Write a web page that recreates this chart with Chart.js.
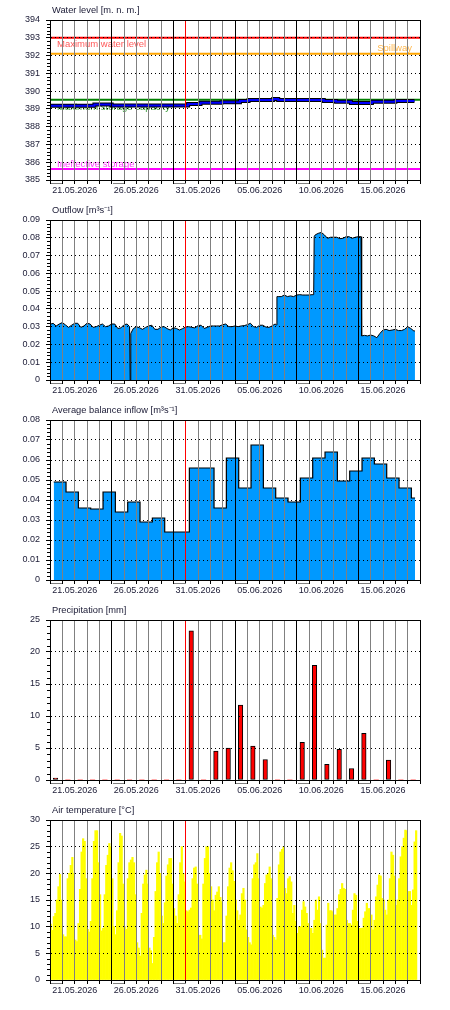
<!DOCTYPE html>
<html>
<head>
<meta charset="utf-8">
<script src="https://cdn.jsdelivr.net/npm/chart.js@4.4.1/dist/chart.umd.min.js"></script>
<style>
  html, body { margin: 0; padding: 0; background: #fff; overflow: hidden; }
  canvas { display: block; }
</style>
</head>
<body>
<canvas id="wl" width="450" height="200"></canvas>
<canvas id="of" width="450" height="200"></canvas>
<canvas id="inf" width="450" height="200"></canvas>
<canvas id="pr" width="450" height="200"></canvas>
<canvas id="tmp" width="450" height="200"></canvas>
<script>
// === data (x = days since 19.05.2026 00:00) ===
const axisDays   = 30;
const labelDays  = [2, 7, 12, 17, 22, 27];
const dateLabels = ["21.05.2026", "26.05.2026", "31.05.2026", "05.06.2026", "10.06.2026", "15.06.2026"];
const weekDays   = [0, 5, 10, 15, 20, 25];
const nowDay     = 11; // 30.05.2026

const titles = ["Water level [m. n. m.]", "Outflow [m³s⁻¹]", "Average balance inflow [m³s⁻¹]",
                "Precipitation [mm]", "Air temperature [°C]"];

// water level + reference levels
const refNames  = ["Maximum water level", "Spillway", "Maximum storage capacity", "Ineffective storage"];
const refLevels = [393, 392.1, 389.52, 385.62];
const levelDays   = [0, 3.6, 5.0, 11.2, 12.2, 13.9, 15.4, 16.1, 18.1, 18.5, 22.2, 23.2, 24.4, 26.1, 28.0, 29.55];
const levelValues = [389.17, 389.24, 389.19, 389.27, 389.34, 389.38, 389.45, 389.5, 389.56, 389.5, 389.45, 389.4, 389.33, 389.4, 389.44, 389.44];

// outflow
const outflowDays = [0, 0.25, 0.5, 0.75, 1, 1.25, 1.5, 1.75, 2, 2.25, 2.5, 2.75, 3, 3.25, 3.5, 3.75, 4, 4.25, 4.5, 4.75,
  5, 5.25, 5.5, 5.75, 6, 6.25, 6.45, 6.5, 6.55, 6.75, 7, 7.25, 7.5, 7.75, 8, 8.25, 8.5, 8.75, 9, 9.25, 9.5, 9.75,
  10, 10.25, 10.5, 10.75, 11, 11.25, 11.5, 11.75, 12, 12.25, 12.5, 12.75, 13, 13.25, 13.5, 13.75, 14, 14.25, 14.5, 14.75,
  15, 15.25, 15.5, 15.75, 16, 16.25, 16.5, 16.75, 17, 17.25, 17.5, 17.75, 18, 18.25, 18.35, 18.4, 18.5, 18.75,
  19, 19.25, 19.5, 19.75, 20, 20.25, 20.5, 20.75, 21, 21.25, 21.38, 21.42, 21.5, 21.75, 22, 22.25, 22.5, 22.75,
  23, 23.25, 23.5, 23.75, 24, 24.25, 24.5, 24.75, 25, 25.22, 25.27, 25.5, 25.75, 26, 26.25, 26.5, 26.75,
  27, 27.25, 27.5, 27.75, 28, 28.25, 28.5, 28.75, 29, 29.25, 29.5, 29.59];
const outflowValues = [0.0313, 0.0319, 0.0304, 0.0315, 0.0323, 0.031, 0.0296, 0.0308, 0.0319, 0.0319, 0.0296, 0.0304, 0.0319, 0.0315, 0.0296, 0.030, 0.0308, 0.0315, 0.030, 0.0304,
  0.0315, 0.0315, 0.029, 0.0293, 0.0311, 0.0315, 0.030, 0, 0.0262, 0.0289, 0.030, 0.0294, 0.0285, 0.0296, 0.0304, 0.0308, 0.0285, 0.0285, 0.0298, 0.030, 0.0289, 0.0281,
  0.0294, 0.029, 0.0281, 0.0289, 0.0298, 0.030, 0.0296, 0.0293, 0.0306, 0.0308, 0.029, 0.0296, 0.0304, 0.0304, 0.0304, 0.0304, 0.0311, 0.0315, 0.030, 0.030,
  0.0304, 0.030, 0.0304, 0.0306, 0.0311, 0.0319, 0.030, 0.0296, 0.0308, 0.0308, 0.0298, 0.0296, 0.0304, 0.0315, 0.031, 0.0469, 0.0469, 0.0469,
  0.0478, 0.0469, 0.0473, 0.0469, 0.0478, 0.048, 0.0478, 0.0478, 0.0478, 0.048, 0.048, 0.0806, 0.0816, 0.0825, 0.083, 0.0816, 0.0797, 0.0803,
  0.0803, 0.0803, 0.0795, 0.0797, 0.0806, 0.0806, 0.0797, 0.0803, 0.0806, 0.0806, 0.0248, 0.0251, 0.0248, 0.0253, 0.0248, 0.0238, 0.0262,
  0.0281, 0.0285, 0.0278, 0.0281, 0.0285, 0.0278, 0.0278, 0.0285, 0.030, 0.029, 0.0276, 0.0276];

// average balance inflow: one value per day, each block starting ~07:00
const inflowStart  = 0.3;
const inflowEnd    = 29.6;
const inflowValues = [0.049, 0.044, 0.036, 0.0355, 0.044, 0.034, 0.039, 0.029, 0.031, 0.024,
  0.024, 0.056, 0.056, 0.036, 0.061, 0.046, 0.0675, 0.046, 0.041, 0.039,
  0.051, 0.061, 0.064, 0.0495, 0.0545, 0.061, 0.058, 0.051, 0.046, 0.041];

// precipitation, daily sums
const precipAt     = 0.45;
const precipValues = [0.3, 0, 0, 0, 0, 0, 0, 0, 0, 0, 0, 23.3, 0, 4.5, 5.0, 11.7, 5.3, 3.2, 0, 0,
  5.9, 17.9, 2.45, 4.8, 1.8, 7.3, 0, 3.1, 0, 0];

// air temperature, 3-hour steps
const tempStep = 0.125;
const tempValues = [
  10.5, 9.3, 11.9, 12.5, 15, 17.5, 19.8, 15,
  8.5, 8.1, 8.1, 19, 20, 21.5, 23, 20,
  7.5, 7.2, 10.6, 17, 24, 26.5, 26, 19,
  9.5, 9, 11, 19, 26, 28, 28, 22,
  16, 9.2, 9.7, 16, 21.5, 23.4, 25.6, 25,
  19, 10, 8.5, 13, 22, 27.5, 27, 18,
  10, 9.5, 19, 22, 22.5, 23, 22, 16,
  7, 6, 4.5, 12.5, 18, 19.7, 20.6, 18,
  6, 5.5, 3.1, 8, 16.6, 22, 24, 20,
  12, 10.6, 14.5, 19.5, 21.6, 22.8, 22.8, 18,
  13.4, 12, 10.6, 16, 22, 25, 20, 18.4,
  13, 12.8, 13.1, 13.5, 19, 21, 21.2, 18,
  8.4, 8.4, 7.7, 18, 22.8, 25, 25, 20,
  17.5, 15, 13, 15.9, 16.5, 17.5, 15.5, 14.7,
  7, 7, 12, 17.5, 21, 22, 20.5, 18.5,
  15, 13, 11.2, 12.2, 16.2, 17.2, 15, 9.4,
  8, 7, 6.6, 19, 21.6, 22, 23.7, 19,
  13.7, 13.5, 14, 18.1, 19.7, 20, 21.2, 19,
  8.4, 8, 7.5, 15.3, 21.6, 24, 24.5, 25,
  17.2, 16.2, 19, 19.4, 18.4, 12.5, 14, 11,
  8.75, 10, 10, 13.1, 14.7, 13.7, 12.5, 10.6,
  9.7, 9.7, 8.75, 11.2, 15, 13.1, 15.6, 10.6,
  5.6, 4.1, 4.1, 10.3, 14.4, 13, 13, 12.8,
  12.2, 12.2, 13.4, 16, 17, 18.1, 17.2, 17,
  11.2, 10.6, 10.6, 10.3, 13.1, 16.2, 15.9, 11,
  9.7, 9.7, 9.7, 11.6, 12.8, 14.4, 13.4, 13.4,
  12.2, 9.4, 11.2, 15.6, 17.8, 19.7, 19.5, 15.3,
  15, 13.1, 12.2, 15, 19, 24, 23.4, 19.5,
  14, 15, 19, 23.1, 25, 26.6, 28.1, 28,
  16.6, 16.6, 14, 16.9, 25.9, 28];

// === styles ===
const GRAY = "#808080";
const BLUE = "#0099ff";
const TEXT = "#20203a";
const refColors     = ["#ff0000", "#ffa500", "#008000", "#ff00ff"];
const refTextColors = ["#ff5a5a", "#ffb84d", "#339933", "#ff40ff"];

Chart.defaults.font.family = "'Liberation Sans', Arial, sans-serif";
Chart.defaults.font.size = 9;
Chart.defaults.color = TEXT;
Chart.defaults.animation = false;

// === plugins ===
const panelTitle = {
  id: "panelTitle",
  afterDraw(chart, args, opts) {
    const ctx = chart.ctx;
    ctx.save();
    ctx.font = "9.3px 'Liberation Sans', Arial, sans-serif";
    ctx.fillStyle = TEXT;
    ctx.textBaseline = "middle";
    ctx.fillText(opts.text, chart.chartArea.left + 2, 10.5);
    ctx.restore();
  }
};
const frame = {
  id: "frame",
  afterDraw(chart) {
    const a = chart.chartArea, ctx = chart.ctx, x = chart.scales.x;
    ctx.save();
    ctx.strokeStyle = "#000";
    ctx.lineWidth = 1;
    ctx.strokeRect(a.left + 0.5, a.top + 0.5, a.right - a.left, a.bottom - a.top);
    // grey marks under the axis
    ctx.strokeStyle = GRAY;
    ctx.beginPath();
    weekDays.forEach(d => {
      ctx.moveTo(Math.round(x.getPixelForValue(d)) + 1, a.bottom + 3.5);
      ctx.lineTo(Math.round(x.getPixelForValue(d + 1)), a.bottom + 3.5);
    });
    ctx.stroke();
    // minor ticks on y
    const y = chart.scales.y, st = chart.options.plugins.frame.minor;
    if (st) {
      ctx.strokeStyle = "#000";
      ctx.beginPath();
      const n = Math.round((y.max - y.min) / st);
      for (let i = 1; i < n; i++) {
        if (i % 5 === 0) continue;
        const py = Math.round(y.getPixelForValue(y.min + i * st)) + 0.5;
        ctx.moveTo(a.left - 3, py);
        ctx.lineTo(a.left, py);
      }
      ctx.stroke();
    }
    ctx.restore();
  }
};
const refLabels = {
  id: "refLabels",
  beforeDatasetsDraw(chart, args, opts) {
    if (!opts.on) return;
    const ctx = chart.ctx, a = chart.chartArea, y = chart.scales.y;
    const dy = [7, -5, 8, -5];
    ctx.save();
    ctx.font = "9.5px 'Liberation Sans', Arial, sans-serif";
    ctx.textBaseline = "middle";
    refNames.forEach((name, i) => {
      ctx.fillStyle = refTextColors[i];
      const py = y.getPixelForValue(refLevels[i]) + dy[i];
      if (i === 1) { ctx.textAlign = "right"; ctx.fillText(name, a.right - 8, py); }
      else { ctx.textAlign = "left"; ctx.fillText(name, a.left + 7, py); }
    });
    ctx.restore();
  }
};

// === scales ===
function xScale() {
  return {
    type: "linear", min: 0, max: axisDays, offset: false,
    afterFit: s => { s.height = 20; },
    ticks: {
      stepSize: 1, autoSkip: false, maxRotation: 0, maxTicksLimit: 100, padding: 1,
      callback: v => { const i = labelDays.indexOf(v); return i < 0 ? "" : dateLabels[i]; }
    },
    grid: {
      z: 1, offset: false, lineWidth: 1, tickLength: 4, tickColor: "#000",
      color: c => {
        const v = c.tick ? c.tick.value : -1;
        if (v === nowDay) return "#ff0000";
        return weekDays.includes(v) || v === axisDays ? "#000" : GRAY;
      }
    },
    border: { color: "#000", z: 1 }
  };
}
function yScale(min, max, step, fmt) {
  return {
    type: "linear", min, max,
    afterFit: s => { s.width = 50; },
    ticks: { stepSize: step, padding: 6, maxTicksLimit: 30, callback: fmt },
    grid: { z: 1, color: "#000", lineWidth: 1, tickLength: 4, tickColor: "#000", tickBorderDash: [] },
    border: { color: "#000", dash: [1, 3], z: 1 }
  };
}
const fmt2 = v => (v === 0 ? "0" : v.toFixed(2));
const fmt0 = v => String(Math.round(v));

function panel(id, i, type, datasets, yOpts, minor, extra) {
  return new Chart(document.getElementById(id), {
    type,
    data: { datasets },
    options: {
      responsive: false,
      events: [],
      layout: { padding: { top: 20, right: 30, left: 0, bottom: 0 } },
      scales: { x: xScale(), y: yOpts },
      plugins: {
        legend: { display: false }, tooltip: { enabled: false },
        panelTitle: { text: titles[i] },
        frame: { minor },
        refLabels: { on: !!extra }
      }
    },
    plugins: [panelTitle, frame, refLabels]
  });
}

// === build points ===
const levelPts   = levelDays.map((d, i) => ({ x: d, y: levelValues[i] }));
const outflowPts = outflowDays.map((d, i) => ({ x: d, y: outflowValues[i] }));
const inflowPts  = inflowValues.map((v, k) => ({ x: k + inflowStart, y: v }));
inflowPts.push({ x: inflowEnd, y: inflowValues[inflowValues.length - 1] });
const precipPts  = precipValues.map((v, k) => ({ x: k + precipAt, y: v }));
const tempPts    = tempValues.map((v, i) => ({ x: (i + 0.5) * tempStep, y: v }));

// 1 water level
const refSets = refLevels.map((lv, i) => ({
  data: [{ x: 0, y: lv }, { x: axisDays, y: lv }],
  borderColor: refColors[i], borderWidth: 2, pointRadius: 0
}));
panel("wl", 0, "line", [
  { data: levelPts, borderColor: "#0000ff", borderWidth: 2, stepped: true, pointRadius: 0 },
  { data: levelPts, borderColor: "#000", borderWidth: 4, stepped: true, pointRadius: 0 },
  ...refSets
], yScale(385, 394, 1, fmt0), 0.2, true);

// 2 outflow
panel("of", 1, "line", [
  { data: outflowPts, borderColor: "#000", borderWidth: 1, backgroundColor: BLUE, fill: "origin", pointRadius: 0 }
], yScale(0, 0.09, 0.01, fmt2), 0.002);

// 3 inflow
panel("inf", 2, "line", [
  { data: inflowPts, borderColor: "#000", borderWidth: 1.2, backgroundColor: BLUE, fill: "origin", stepped: true, pointRadius: 0 }
], yScale(0, 0.08, 0.01, fmt2), 0.002);

// 4 precipitation
panel("pr", 3, "bar", [
  { data: precipPts, backgroundColor: "#ff0000", borderColor: "#000",
    borderWidth: c => (c.raw && c.raw.y > 0 ? 1 : 0), borderSkipped: false, barThickness: 4.5 }
], yScale(0, 25, 5, fmt0), 1);

// 5 air temperature
panel("tmp", 4, "bar", [
  { data: tempPts, backgroundColor: "#ffff00", borderWidth: 0, barPercentage: 1, categoryPercentage: 1 }
], yScale(0, 30, 5, fmt0), 1);
</script>
</body>
</html>
